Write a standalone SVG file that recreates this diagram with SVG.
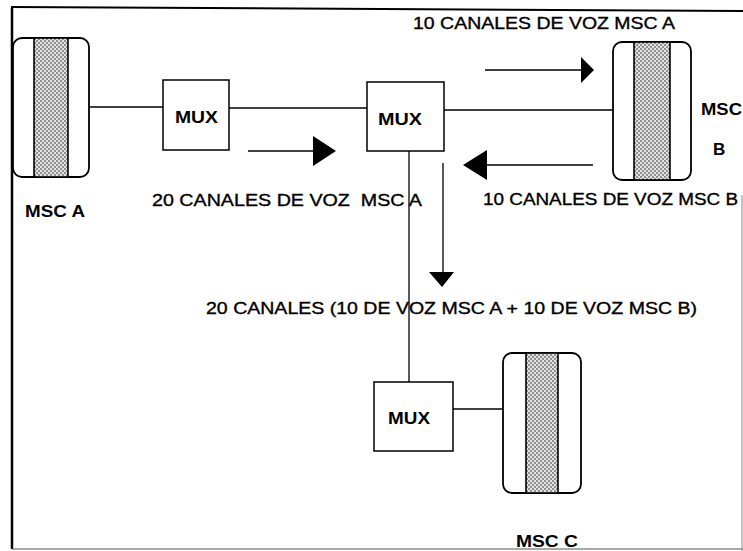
<svg xmlns="http://www.w3.org/2000/svg" width="743" height="551" viewBox="0 0 743 551">
<style>
.box{fill:#fff;stroke:#000;stroke-width:1.5}
.msc{fill:#fff;stroke:#000;stroke-width:1.8}
.band{fill:url(#dots);stroke:#000;stroke-width:1.6}
.ln{stroke:#000;stroke-width:1.3;fill:none}
.head{fill:#000}
.t{font-family:"Liberation Sans",Arial,sans-serif;font-size:17px;fill:#000;stroke:#000;stroke-width:0.35}
.b{font-family:"Liberation Sans",Arial,sans-serif;font-size:17px;font-weight:bold;fill:#000}
</style>
<defs>
<pattern id="dots" width="4" height="4" patternUnits="userSpaceOnUse">
<rect width="4" height="4" fill="#e4e4e4"/>
<circle cx="1" cy="1" r="0.8" fill="#222"/>
<circle cx="3" cy="3" r="0.8" fill="#222"/>
</pattern>
</defs>
<rect width="743" height="551" fill="#fff"/>
<g id="frame">
<path d="M12,8 V549" stroke="#000" stroke-width="2.5" fill="none"/>
<path d="M11,7 L743,11" stroke="#000" stroke-width="2" fill="none"/>
<path d="M12,549 H743" stroke="#555" stroke-width="1.2" fill="none"/>
<path d="M742,195 V551" stroke="#888" stroke-width="1" fill="none"/>
</g>
<g id="connectors">
<path class="ln" d="M89,107 H163"/>
<path class="ln" d="M229,108 H367"/>
<path class="ln" d="M444,110 H613"/>
<path class="ln" d="M409,151 V382"/>
<path class="ln" d="M453,409 H503"/>
<path class="ln" d="M248,151 H314"/>
<polygon class="head" points="313,136 336,151 313,166"/>
<path class="ln" d="M485,70 H582"/>
<polygon class="head" points="581,57 594,70 581,83"/>
<path class="ln" d="M486,165 H593"/>
<polygon class="head" points="487,150 463,165 487,180"/>
<path class="ln" d="M443,163 V273"/>
<polygon class="head" points="429,272 442,287 454,272"/>
</g>
<g id="msc-a">
<rect class="msc" x="13" y="38" width="76" height="139" rx="9"/>
<rect class="band" x="34" y="38" width="34" height="139"/>
<text class="b" x="25" y="217" textLength="60" lengthAdjust="spacingAndGlyphs">MSC A</text>
</g>
<g id="msc-b">
<rect class="msc" x="613" y="42" width="78" height="138" rx="9"/>
<rect class="band" x="634" y="42" width="36" height="138"/>
<text class="b" x="701" y="115" textLength="41" lengthAdjust="spacingAndGlyphs">MSC</text>
<text class="b" x="713" y="155">B</text>
</g>
<g id="msc-c">
<rect class="msc" x="503" y="353" width="78" height="140" rx="9"/>
<rect class="band" x="526" y="353" width="32" height="140"/>
<text class="b" x="516" y="547" textLength="62" lengthAdjust="spacingAndGlyphs">MSC C</text>
</g>
<g id="mux-1">
<rect class="box" x="163" y="80" width="66" height="70"/>
<text class="b" x="175" y="123" textLength="43" lengthAdjust="spacingAndGlyphs">MUX</text>
</g>
<g id="mux-2">
<rect class="box" x="367" y="82" width="77" height="69"/>
<text class="b" x="378" y="125" textLength="44" lengthAdjust="spacingAndGlyphs">MUX</text>
</g>
<g id="mux-3">
<rect class="box" x="374" y="382" width="79" height="69"/>
<text class="b" x="388" y="424" textLength="42" lengthAdjust="spacingAndGlyphs">MUX</text>
</g>
<g id="labels">
<text class="t" x="413" y="29" textLength="262" lengthAdjust="spacingAndGlyphs">10 CANALES DE VOZ MSC A</text>
<text class="t" x="152" y="206" textLength="270" lengthAdjust="spacingAndGlyphs" xml:space="preserve">20 CANALES DE VOZ  MSC A</text>
<text class="t" x="483" y="205" textLength="255" lengthAdjust="spacingAndGlyphs">10 CANALES DE VOZ MSC B</text>
<text class="t" x="206" y="314" textLength="491" lengthAdjust="spacingAndGlyphs">20 CANALES (10 DE VOZ MSC A + 10 DE VOZ MSC B)</text>
</g>
</svg>
